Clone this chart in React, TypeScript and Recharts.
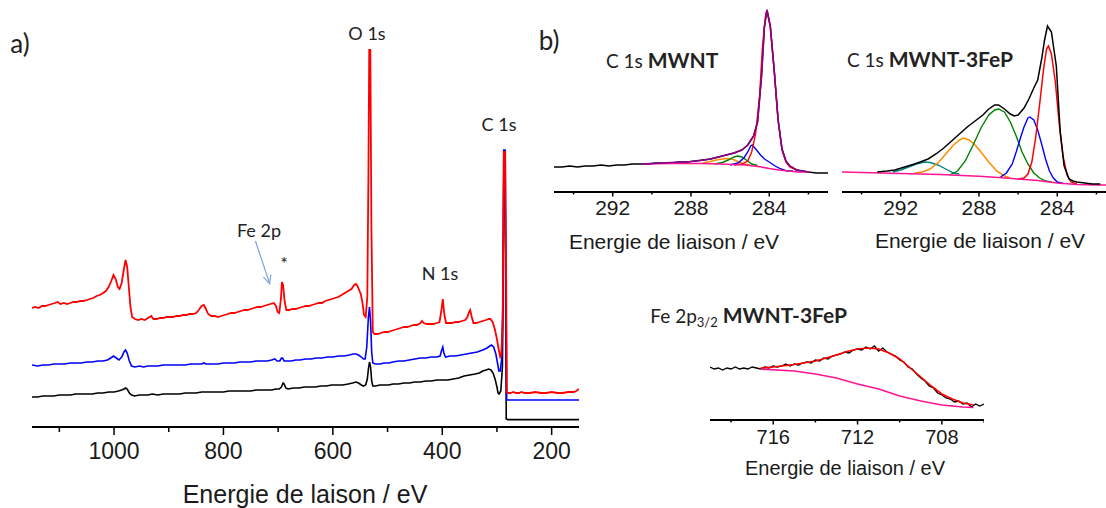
import React from 'react';
import { LineChart, Line, XAxis, YAxis, ReferenceLine } from 'recharts';

type Pt = [number, number];

// ---- panel a) survey spectra, [binding energy eV, intensity] ----
const surveyBlack: Pt[] = [
  [1150, 30], [1140, 30], [1130, 31], [1120, 31], [1110, 31], [1100, 32], [1090, 32], [1080, 32], [1070, 33], [1060, 33],
  [1050, 33], [1040, 33], [1030, 34], [1020, 34], [1010, 35], [1000, 35], [992, 36], [986, 37], [982, 38], [979, 39],
  [976, 38], [972, 34], [968, 32], [962, 31], [954, 32], [946, 32], [938, 32], [930, 33], [920, 32], [910, 33],
  [900, 33], [890, 33], [880, 33], [870, 34], [860, 34], [850, 34], [840, 35], [835, 35], [830, 35], [820, 35],
  [810, 35], [800, 35], [790, 36], [780, 36], [770, 36], [760, 36], [750, 36], [740, 37], [730, 37], [720, 37],
  [712, 37], [704, 38], [698, 38], [694, 40], [691, 44], [689, 43], [686, 39], [682, 38], [672, 39], [662, 39],
  [652, 40], [642, 40], [632, 40], [622, 41], [612, 41], [602, 42], [592, 42], [582, 42], [572, 43], [564, 44],
  [558, 45], [553, 44], [548, 42], [544, 41], [540, 42], [537, 48], [535, 58], [533, 65], [531, 60], [529, 46],
  [527, 41], [522, 41], [514, 42], [506, 42], [498, 42], [490, 43], [480, 43], [470, 44], [460, 44], [450, 45],
  [440, 45], [430, 46], [420, 46], [410, 47], [400, 47], [390, 47], [380, 48], [370, 49], [360, 51], [350, 52],
  [340, 53], [332, 54], [326, 56], [320, 57], [315, 58], [311, 57], [307, 54], [303, 47], [300, 40], [298, 34],
  [296, 33], [293, 36], [290, 60], [288.5, 150], [287.5, 250], [285.5, 262], [284.5, 200], [283.6, 80], [283, 8],
  [280, 7.4], [270, 7.4], [250, 7.4], [230, 7.4], [200, 7.4], [180, 7.4], [160, 7.4], [150, 7.4],
];

const surveyBlue: Pt[] = [
  [1150, 62], [1140, 61], [1130, 62], [1120, 62], [1110, 63], [1100, 63], [1090, 63], [1080, 64], [1070, 64], [1060, 64],
  [1050, 65], [1040, 65], [1030, 66], [1020, 66], [1012, 67], [1006, 69], [1001, 71], [996, 69], [991, 67], [986, 70],
  [982, 75], [979, 77], [976, 74], [972, 66], [968, 61], [962, 60], [954, 61], [946, 60], [938, 61], [930, 61],
  [920, 61], [910, 62], [900, 62], [890, 62], [880, 62], [870, 62], [860, 63], [850, 63], [840, 63], [836, 64],
  [832, 63], [820, 63], [810, 63], [800, 64], [790, 64], [780, 64], [770, 65], [760, 65], [750, 65], [740, 66],
  [730, 66], [720, 66], [712, 67], [706, 68], [702, 66], [697, 66], [694, 69], [692, 69], [689, 66], [684, 66],
  [676, 66], [668, 67], [660, 67], [650, 68], [640, 68], [630, 69], [620, 69], [610, 70], [600, 70], [590, 71],
  [580, 71], [570, 72], [563, 73], [558, 73], [553, 72], [548, 70], [544, 68], [541, 68], [538, 80], [535, 110],
  [533, 120], [531, 105], [529, 75], [527, 64], [522, 63], [514, 63], [506, 64], [498, 64], [490, 65], [480, 66],
  [470, 66], [460, 67], [450, 68], [440, 69], [430, 69], [420, 70], [410, 70], [404, 71], [401, 77], [399, 80],
  [397, 74], [394, 70], [386, 71], [376, 71], [366, 72], [356, 73], [346, 74], [336, 75], [326, 77], [318, 79],
  [313, 81], [310, 82], [306, 80], [302, 73], [299, 64], [296.5, 56], [294, 56], [291, 70], [289, 130],
  [287.5, 277], [285, 277], [283.4, 140], [282.2, 27], [280, 27], [270, 27], [260, 27], [250, 27], [240, 27],
  [220, 27], [200, 27], [180, 27], [160, 27], [150, 27],
];

const surveyRed: Pt[] = [
  [1150, 119], [1144, 120], [1138, 119], [1132, 121], [1126, 121], [1120, 122], [1114, 123], [1108, 124], [1103, 125], [1098, 123],
  [1092, 124], [1086, 123], [1080, 124], [1074, 125], [1068, 125], [1062, 126], [1056, 126], [1050, 127], [1044, 128], [1038, 129],
  [1032, 131], [1026, 132], [1020, 134], [1015, 136], [1010, 140], [1005, 146], [1001, 152], [997, 148], [993, 140], [990, 138],
  [986, 144], [982, 158], [979, 167], [976, 160], [973, 140], [970, 120], [967, 110], [962, 108], [956, 107], [950, 108],
  [944, 107], [938, 109], [932, 111], [928, 108], [922, 108], [916, 109], [910, 109], [904, 110], [898, 110], [892, 110],
  [886, 111], [880, 111], [874, 112], [868, 112], [862, 113], [856, 113], [850, 114], [845, 117], [840, 121], [836, 122],
  [832, 118], [828, 113], [822, 111], [816, 111], [810, 110], [804, 111], [798, 112], [792, 113], [786, 114], [780, 114],
  [774, 115], [768, 116], [762, 117], [756, 117], [750, 118], [744, 119], [738, 120], [732, 120], [726, 121], [720, 122],
  [714, 123], [708, 124], [704, 121], [701, 115], [698, 114], [695, 128], [693, 145], [691, 142], [688, 125], [685, 117],
  [680, 117], [674, 118], [668, 118], [662, 119], [656, 120], [650, 121], [644, 121], [638, 122], [632, 123], [626, 124],
  [620, 124], [614, 126], [608, 127], [602, 128], [596, 129], [590, 130], [584, 132], [578, 134], [572, 136], [566, 138],
  [561, 142], [558, 143], [555, 141], [552, 137], [549, 133], [546, 125], [543, 112], [540, 110], [537, 130], [535, 250],
  [533.5, 377], [531.5, 377], [529.5, 200], [527, 95], [524, 93], [518, 93], [512, 94], [506, 95], [500, 95], [494, 96],
  [488, 97], [482, 98], [476, 99], [470, 100], [464, 100], [458, 101], [452, 102], [446, 102], [440, 104], [437, 106],
  [434, 104], [428, 103], [422, 103], [416, 103], [410, 104], [405, 105], [402, 115], [399, 128], [396, 112], [393, 104],
  [388, 104], [382, 104], [376, 105], [370, 105], [364, 106], [358, 107], [354, 110], [351, 115], [349, 117], [346, 110],
  [343, 104], [338, 104], [332, 105], [326, 106], [320, 107], [315, 108], [312, 108], [308, 105], [304, 98], [300, 88],
  [297, 78], [294, 70], [292, 72], [289.5, 110], [287.5, 275], [285, 275], [283.2, 150], [282, 35], [280, 34],
  [275, 34], [270, 35], [265, 34], [260, 34], [255, 35], [250, 34], [240, 34], [230, 35], [220, 34], [210, 34],
  [200, 35], [190, 34], [180, 34], [170, 35], [160, 35], [155, 36], [150, 38],
];

const surveyTicks = [1100, 1000, 900, 800, 700, 600, 500, 400, 300, 200];
const surveyLabels = [1000, 800, 600, 400, 200];

// ---- panel b) C 1s MWNT ----
const mwntRaw: Pt[] = [
  [295, 25], [294.6, 25], [294.2, 26], [293.8, 25], [293.4, 26], [293, 26], [292.6, 27], [292.2, 26], [291.8, 27], [291.4, 27],
  [291, 28], [290.6, 28], [290.2, 28], [289.8, 29], [289.4, 29], [289, 29], [288.6, 30], [288.2, 30], [287.8, 31], [287.4, 32],
  [287, 33], [286.6, 35], [286.2, 37], [285.8, 39], [285.4, 42], [285.1, 47], [284.8, 56], [284.6, 70], [284.4, 115],
  [284.25, 165], [284.12, 182], [283.95, 166], [283.75, 122], [283.55, 72], [283.35, 43], [283.15, 31], [282.95, 26],
  [282.6, 22], [282.3, 21], [282, 20], [281.6, 19], [281.3, 19], [281, 19],
];
const mwntEnvelope: Pt[] = [
  [290.5, 28], [290, 28.5], [289, 29.5], [288, 30.5], [287.5, 31.5], [287, 33], [286.6, 35], [286.2, 37], [285.8, 39],
  [285.4, 42], [285.1, 47], [284.8, 56], [284.6, 70], [284.4, 115], [284.25, 165], [284.12, 182], [283.95, 166],
  [283.75, 122], [283.55, 72], [283.35, 43], [283.15, 31], [282.95, 26], [282.6, 22], [282.3, 21], [282, 20],
];
const mwntRed: Pt[] = [
  [285.8, 27], [285.4, 28], [285.1, 31], [284.9, 40], [284.7, 58], [284.5, 95], [284.35, 145], [284.2, 175], [284.12, 182],
  [283.95, 166], [283.75, 122], [283.55, 72], [283.35, 42], [283.15, 30], [282.95, 25], [282.6, 22],
];
const mwntBlue: Pt[] = [
  [286, 27], [285.6, 29], [285.3, 34], [285.1, 40], [284.95, 46], [284.87, 47], [284.65, 42], [284.45, 37], [284.25, 33],
  [284, 30], [283.7, 26], [283.4, 23], [283.1, 21], [282.8, 21],
];
const mwntGreen: Pt[] = [
  [286.8, 28], [286.4, 29.5], [286.1, 32], [285.8, 35], [285.6, 36], [285.4, 35], [285.1, 31], [284.9, 28], [284.6, 26.5],
];
const mwntOrange: Pt[] = [
  [287.4, 29], [287, 30.5], [286.6, 32.5], [286.2, 33.5], [285.9, 33], [285.6, 30.5], [285.3, 28], [285, 27],
];
const mwntBase: Pt[] = [
  [290.5, 28], [289, 28.5], [287.5, 28.5], [286.5, 28], [285.8, 27.5], [285.2, 27], [284.8, 26], [284.4, 25],
  [284, 23.5], [283.5, 22], [283, 21], [282.5, 20], [282, 20],
];

// ---- panel b) C 1s MWNT-3FeP ----
const fepRaw: Pt[] = [
  [293.2, 20], [292.7, 21], [292.3, 22], [291.8, 25], [291.3, 28], [291, 30], [290.6, 33], [290.2, 38], [289.8, 44],
  [289.4, 51], [289, 58], [288.6, 65], [288.2, 71], [287.8, 77], [287.5, 83], [287.2, 87], [287, 87], [286.7, 83],
  [286.4, 78], [286.2, 76], [286, 77], [285.7, 84], [285.45, 93], [285.2, 104], [285, 112], [284.8, 133], [284.65, 152],
  [284.5, 166], [284.3, 160], [284.05, 126], [283.85, 60], [283.65, 26], [283.4, 13], [283.2, 11], [283, 10],
  [282.6, 9], [282.2, 8], [281.8, 8],
];
const fepRed: Pt[] = [
  [286, 13], [285.7, 14], [285.5, 18], [285.3, 30], [285.1, 55], [284.9, 88], [284.7, 123], [284.55, 143], [284.45, 146],
  [284.3, 138], [284.1, 110], [283.9, 68], [283.7, 35], [283.5, 17], [283.3, 10], [283, 8],
];
const fepBlue: Pt[] = [
  [286.9, 15], [286.6, 19], [286.3, 28], [286.1, 40], [285.9, 53], [285.7, 65], [285.5, 74], [285.4, 75], [285.2, 72],
  [285, 62], [284.8, 48], [284.6, 33], [284.4, 21], [284.2, 14], [284, 10], [283.7, 8.5],
];
const fepGreen: Pt[] = [
  [289.5, 17], [289.1, 21], [288.7, 31], [288.3, 47], [287.9, 64], [287.5, 77], [287.2, 82], [287, 83], [286.7, 80],
  [286.4, 70], [286.1, 56], [285.8, 40], [285.5, 28], [285.2, 19], [284.9, 14], [284.6, 11], [284.3, 10],
];
const fepOrange: Pt[] = [
  [291.3, 19], [290.9, 20], [290.5, 23], [290.1, 29], [289.7, 38], [289.3, 47], [289, 52], [288.8, 54], [288.5, 52],
  [288.2, 47], [287.9, 40], [287.5, 30], [287.1, 21], [286.7, 16], [286.4, 14],
];
const fepTeal: Pt[] = [
  [292.4, 20], [292, 22], [291.6, 25], [291.2, 28], [290.8, 30], [290.5, 29.5], [290.1, 27], [289.7, 23], [289.3, 19], [289, 18],
];
const fepBase: Pt[] = [
  [295, 20], [292, 18.5], [290, 17.5], [288, 15.7], [287, 14.5], [286, 13], [285, 11.5], [284, 9], [283, 7.5], [282, 7], [281, 7],
];

const c1sTicks = [282, 284, 286, 288, 290, 292, 294];
const c1sLabels = [284, 288, 292];

// ---- panel b) Fe 2p3/2 MWNT-3FeP ----
const feRaw: Pt[] = [
  [719, 53], [718.8, 51], [718.6, 52], [718.4, 50], [718.2, 52], [718, 51], [717.8, 53], [717.6, 51], [717.4, 52], [717.2, 51],
  [717, 53], [716.8, 52], [716.6, 51], [716.4, 53], [716.2, 52], [716, 54], [715.8, 53], [715.6, 54], [715.4, 56], [715.2, 54],
  [715, 56], [714.8, 55], [714.6, 57], [714.4, 58], [714.2, 57], [714, 60], [713.8, 59], [713.6, 62], [713.4, 61], [713.2, 64],
  [713, 65], [712.8, 66], [712.6, 68], [712.4, 67], [712.2, 70], [712, 71], [711.8, 70], [711.6, 73], [711.4, 71], [711.2, 74],
  [711, 69], [710.8, 72], [710.6, 68], [710.4, 66], [710.2, 64], [710, 60], [709.8, 58], [709.6, 53], [709.4, 51], [709.2, 46],
  [709, 42], [708.8, 39], [708.6, 34], [708.4, 32], [708.2, 27], [708, 25], [707.8, 22], [707.6, 21], [707.4, 18], [707.2, 19],
  [707, 16], [706.8, 17], [706.6, 13], [706.4, 16], [706.2, 14], [706, 16],
];
const feFit: Pt[] = [
  [716.6, 52], [716, 53], [715, 55.5], [714, 59], [713.4, 62.5], [713, 65], [712.5, 68.5], [712, 71], [711.5, 72], [711, 71],
  [710.5, 67], [710, 61], [709.5, 52], [709, 43], [708.5, 34], [708, 26], [707.5, 21], [707, 17], [706.5, 15],
];
const feBase: Pt[] = [
  [716.6, 51], [715, 49], [714, 46], [713, 42], [712, 36], [711, 31], [710, 24], [709, 19], [708, 15], [707, 13], [706.5, 12.5],
];

const feTicks = [706, 708, 710, 712, 714, 716, 718];
const feLabels = [708, 712, 716];

const rows = (pts: Pt[]) => pts.map(([x, y]) => ({ x, y }));

const TICK_FONT = '"Liberation Sans", Arial, sans-serif';
const LABEL_FONT = 'Lato, "Open Sans", sans-serif';

const makeTick = (labels: number[], major: number, minor: number, gap: number, fs: number) =>
  (props: any) => {
    const { x, y, payload } = props;
    const isMajor = labels.includes(payload.value);
    return (
      <g>
        <line x1={x} x2={x} y1={y} y2={y + (isMajor ? major : minor)} stroke="#000" strokeWidth={1.5} />
        {isMajor && (
          <text x={x} y={y + gap + fs * 0.716} textAnchor="middle" fontSize={fs} fill="#1a1a1a" fontFamily={TICK_FONT}>
            {payload.value}
          </text>
        )}
      </g>
    );
  };

const Arrow = (p: any) => {
  const { x1, y1, x2, y2 } = p;
  const a = Math.atan2(y2 - y1, x2 - x1);
  const L = 9;
  const h1 = [x2 - L * Math.cos(a - 0.45), y2 - L * Math.sin(a - 0.45)];
  const h2 = [x2 - L * Math.cos(a + 0.45), y2 - L * Math.sin(a + 0.45)];
  return (
    <g stroke="#7aa3dc" strokeWidth={1.2} fill="none">
      <line x1={x1} y1={y1} x2={x2} y2={y2} />
      <path d={`M${h1[0]},${h1[1]} L${x2},${y2} L${h2[0]},${h2[1]}`} />
    </g>
  );
};

const shift: Record<string, string> = {
  center: 'translate(-50%, -50%)',
  left: 'translate(0, -50%)',
  right: 'translate(-100%, -50%)',
};

const Label = ({ x, y, size = 18, children, anchor = 'center' }: any) => (
  <div
    style={{
      position: 'absolute',
      left: x,
      top: y,
      transform: shift[anchor],
      fontFamily: LABEL_FONT,
      fontSize: size,
      lineHeight: 1,
      color: '#222',
      whiteSpace: 'nowrap',
    }}
  >
    {children}
  </div>
);

const AxisTitle = ({ x, y, size, children }: any) => (
  <div
    style={{
      position: 'absolute',
      left: x,
      top: y,
      transform: 'translate(-50%, -50%)',
      fontFamily: TICK_FONT,
      fontSize: size,
      lineHeight: 1,
      color: '#1a1a1a',
      whiteSpace: 'nowrap',
    }}
  >
    {children}
  </div>
);

const series = (pts: Pt[], color: string, width = 1.5) => (
  <Line
    data={rows(pts)}
    dataKey="y"
    type="linear"
    stroke={color}
    strokeWidth={width}
    dot={false}
    activeDot={false}
    isAnimationActive={false}
  />
);

const C1sPanel = ({ children }: { children: React.ReactNode }) => (
  <LineChart width={274} height={230} margin={{ top: 0, right: 0, bottom: 0, left: 0 }}>
    <XAxis
      dataKey="x"
      type="number"
      domain={[281, 295]}
      reversed
      allowDataOverflow
      ticks={c1sTicks}
      interval={0}
      tickSize={0}
      tickMargin={0}
      tickLine={false}
      axisLine={{ stroke: '#000', strokeWidth: 2 }}
      tick={makeTick(c1sLabels, 4.5, 2.5, 8, 21)}
      height={40}
    />
    <YAxis hide domain={[0, 190]} allowDataOverflow />
    {children}
  </LineChart>
);

const Bold = ({ children }: any) => <b style={{ fontSize: 21 }}>{children}</b>;

export default function App() {
  return (
    <div style={{ position: 'absolute', left: 0, top: 0, width: 1106, height: 508, overflow: 'hidden', background: '#fff' }}>
      {/* a) survey */}
      <div style={{ position: 'absolute', left: 32, top: 27 }}>
        <LineChart width={547} height={440} margin={{ top: 0, right: 0, bottom: 0, left: 0 }}>
          <XAxis
            dataKey="x"
            type="number"
            domain={[150, 1150]}
            reversed
            allowDataOverflow
            ticks={surveyTicks}
            interval={0}
            tickSize={0}
            tickMargin={0}
            tickLine={false}
            axisLine={{ stroke: '#000', strokeWidth: 2 }}
            tick={makeTick(surveyLabels, 8, 5, 16, 23)}
            height={40}
          />
          <YAxis hide domain={[0, 400]} allowDataOverflow />
          {series(surveyBlack, '#000000', 1.6)}
          {series(surveyBlue, '#0000ff', 1.6)}
          {series(surveyRed, '#ff0000', 1.8)}
          <ReferenceLine segment={[{ x: 741.5, y: 186 }, { x: 715.5, y: 143.4 }]} shape={Arrow} ifOverflow="visible" />
        </LineChart>
      </div>

      {/* b) C 1s MWNT */}
      <div style={{ position: 'absolute', left: 554, top: 2 }}>
        <C1sPanel>
          {series(mwntRaw, '#000000', 1.4)}
          {series(mwntOrange, '#ff8c00', 1.4)}
          {series(mwntGreen, '#008000', 1.4)}
          {series(mwntBlue, '#0000ff', 1.4)}
          {series(mwntRed, '#ff0000', 1.4)}
          {series(mwntBase, '#ff1493', 1.6)}
          {series(mwntEnvelope, '#8b008b', 1.6)}
        </C1sPanel>
      </div>

      {/* b) C 1s MWNT-3FeP */}
      <div style={{ position: 'absolute', left: 842, top: 2 }}>
        <C1sPanel>
          {series(fepTeal, '#008080', 1.4)}
          {series(fepOrange, '#ff8c00', 1.5)}
          {series(fepGreen, '#008000', 1.4)}
          {series(fepBlue, '#0000ff', 1.4)}
          {series(fepRed, '#ff0000', 1.5)}
          {series(fepBase, '#ff1493', 1.6)}
          {series(fepRaw, '#000000', 1.5)}
        </C1sPanel>
      </div>

      {/* b) Fe 2p3/2 */}
      <div style={{ position: 'absolute', left: 710, top: 340 }}>
        <LineChart width={274} height={120} margin={{ top: 0, right: 0, bottom: 0, left: 0 }}>
          <XAxis
            dataKey="x"
            type="number"
            domain={[706, 719]}
            reversed
            allowDataOverflow
            ticks={feTicks}
            interval={0}
            tickSize={0}
            tickMargin={0}
            tickLine={false}
            axisLine={{ stroke: '#000', strokeWidth: 2 }}
            tick={makeTick(feLabels, 4.5, 2.5, 10, 20)}
            height={40}
          />
          <YAxis hide domain={[0, 80]} allowDataOverflow />
          {series(feRaw, '#000000', 1.3)}
          {series(feBase, '#ff1493', 1.6)}
          {series(feFit, '#ff0000', 1.6)}
        </LineChart>
      </div>

      {/* axis titles */}
      <AxisTitle x={305} y={494} size={25}>Energie de laison / eV</AxisTitle>
      <AxisTitle x={674} y={241} size={21}>Energie de liaison / eV</AxisTitle>
      <AxisTitle x={980} y={240} size={21}>Energie de liaison / eV</AxisTitle>
      <AxisTitle x={845} y={468} size={20}>Energie de liaison / eV</AxisTitle>

      {/* annotations */}
      <Label x={20} y={43} size={26}>a)</Label>
      <Label x={549} y={40} size={26}>b)</Label>
      <Label x={367} y={33}>O 1s</Label>
      <Label x={499} y={124}>C 1s</Label>
      <Label x={259} y={230}>Fe 2p</Label>
      <Label x={284} y={263}>*</Label>
      <Label x={440} y={273}>N 1s</Label>
      <Label x={606} y={59} size={19} anchor="left">
        C 1s <Bold>MWNT</Bold>
      </Label>
      <Label x={847} y={58} size={19} anchor="left">
        C 1s <Bold>MWNT-3FeP</Bold>
      </Label>
      <Label x={847} y={314} size={19} anchor="right">
        Fe 2p<sub style={{ fontSize: 13, verticalAlign: 'baseline', position: 'relative', top: 4 }}>3/2</sub> <Bold>MWNT-3FeP</Bold>
      </Label>
    </div>
  );
}
